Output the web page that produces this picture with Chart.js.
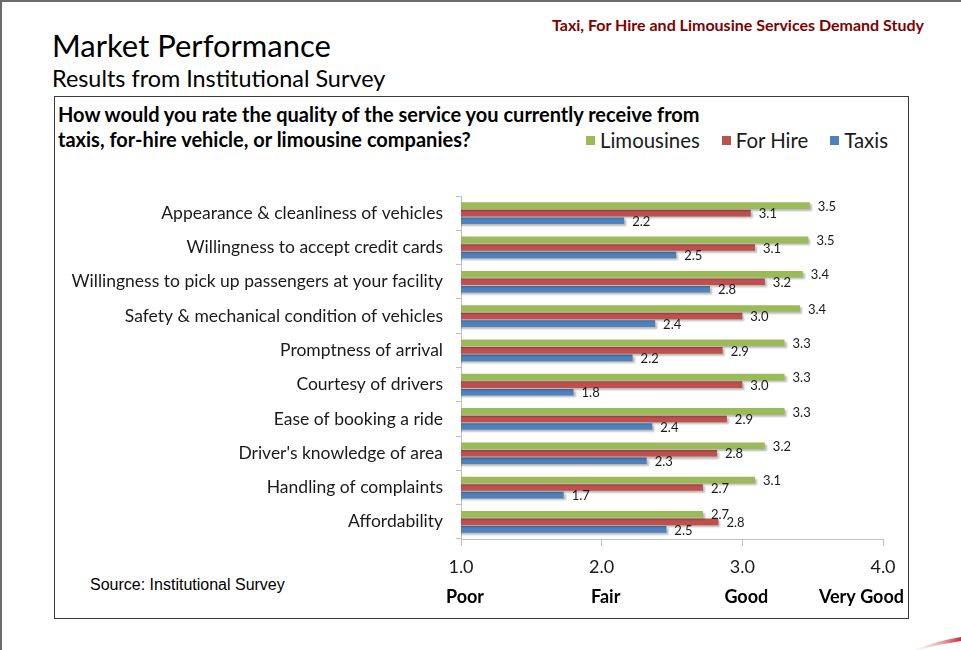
<!DOCTYPE html>
<html>
<head>
<meta charset="utf-8">
<script src="https://cdn.jsdelivr.net/npm/chart.js@4.4.0/dist/chart.umd.min.js"></script>
<style>
  html, body { margin: 0; padding: 0; background: #fff; }
  #page { position: relative; width: 961px; height: 650px; overflow: hidden; font-family: Lato, "Noto Sans", sans-serif; color: #000; }
  #page:before { content: ''; position: absolute; left: 0; top: 0; right: 0; height: 2px; background: #6b6b6b; }
  #page:after { content: ''; position: absolute; left: 0; top: 0; bottom: 0; width: 2px; background: #6b6b6b; }
  .txt { position: absolute; white-space: nowrap; }
  #study { right: 37px; top: 15px; font-size: 16px; font-weight: bold; color: #7f0000; }
  #title { left: 52px; top: 26px; font-size: 31px; }
  #subtitle { left: 52px; top: 64px; font-size: 23.4px; }
  #box { position: absolute; left: 54px; top: 96px; width: 853px; height: 521px; border: 1px solid #3a3a3a; }
  #question { left: 58px; top: 102px; font-size: 20px; font-weight: bold; line-height: 25px; }
  #legend { position: absolute; left: 586px; top: 128px; display: flex; font-size: 20.4px; color: #1a1a1a; }
  #legend .item { display: flex; align-items: center; margin-right: 22px; }
  #legend .sw { width: 9px; height: 9px; margin-right: 5px; }
  #source { left: 90px; top: 576px; font-family: "Liberation Sans Narrow", "Liberation Sans", Arial, sans-serif; font-size: 16px; color: #000; }
  canvas { position: absolute; left: 0; top: 0; }
  #swoosh { position: absolute; left: 900px; top: 620px; }
</style>
</head>
<body>
<div id="page">
  <div class="txt" id="study">Taxi, For Hire and Limousine Services Demand Study</div>
  <div class="txt" id="title">Market Performance</div>
  <div class="txt" id="subtitle">Results from Institutional Survey</div>
  <div id="box"></div>
  <div class="txt" id="question">How would you rate the quality of the service you currently receive from<br>taxis, for-hire vehicle, or limousine companies?</div>
  <div id="legend"></div>
  <div class="txt" id="source">Source: Institutional Survey</div>
  <canvas id="chart" width="961" height="650"></canvas>
  <svg id="swoosh" width="61" height="30">
    <defs>
      <linearGradient id="sg" x1="0" x2="1" y1="0" y2="0">
        <stop offset="0" stop-color="#f3d6d6" stop-opacity="0.2"/>
        <stop offset="1" stop-color="#c0303a"/>
      </linearGradient>
    </defs>
    <path d="M14 30 Q40 20 61 17 L61 21 Q40 24 18 30 Z" fill="url(#sg)"/>
  </svg>
</div>
<script>
// categories, top to bottom
const categories = [
  'Appearance & cleanliness of vehicles',
  'Willingness to accept credit cards',
  'Willingness to pick up passengers at your facility',
  'Safety & mechanical condition of vehicles',
  'Promptness of arrival',
  'Courtesy of drivers',
  'Ease of booking a ride',
  "Driver's knowledge of area",
  'Handling of complaints',
  'Affordability'
];

// ratings (labels show one decimal)
const limousines = [3.48, 3.47, 3.43, 3.41, 3.30, 3.30, 3.30, 3.16, 3.09, 2.72];
const forHire    = [3.06, 3.09, 3.16, 3.00, 2.86, 3.00, 2.89, 2.82, 2.72, 2.83];
const taxis      = [2.16, 2.53, 2.77, 2.38, 2.22, 1.80, 2.36, 2.32, 1.73, 2.46];

const seriesNames = ['Limousines', 'For Hire', 'Taxis'];
const seriesColors = ['#9bbb59', '#c0504d', '#4f81bd'];

const tickValues = [1, 2, 3, 4];
const ratingWords = ['Poor', 'Fair', 'Good', 'Very Good'];

const FONT = 'Lato, "Noto Sans", sans-serif';

// soft drop shadow under the bars, like the original
const shadowPlugin = {
  id: 'barShadow',
  beforeDatasetsDraw(chart) {
    const ctx = chart.ctx;
    ctx.save();
    ctx.shadowColor = 'rgba(0,0,0,0.28)';
    ctx.shadowOffsetX = 2;
    ctx.shadowOffsetY = 2;
    ctx.shadowBlur = 2;
  },
  afterDatasetsDraw(chart) {
    chart.ctx.restore();
  }
};

// value labels at the end of each bar
const valueLabels = {
  id: 'valueLabels',
  afterDatasetsDraw(chart) {
    const ctx = chart.ctx;
    ctx.save();
    ctx.font = '13px ' + FONT;
    ctx.fillStyle = '#1a1a1a';
    ctx.textAlign = 'left';
    ctx.textBaseline = 'middle';
    chart.data.datasets.forEach((ds, i) => {
      chart.getDatasetMeta(i).data.forEach((bar, j) => {
        ctx.fillText(ds.data[j].toFixed(1), bar.x + 8, bar.y + 1);
      });
    });
    ctx.restore();
  }
};

// second row under the x ticks: Poor / Fair / Good / Very Good
const ratingRow = {
  id: 'ratingRow',
  afterDraw(chart) {
    const ctx = chart.ctx;
    const x = chart.scales.x;
    ctx.save();
    ctx.font = 'bold 18px ' + FONT;
    ctx.fillStyle = '#000';
    ctx.textBaseline = 'middle';
    tickValues.forEach((v, i) => {
      const px = x.getPixelForValue(v);
      if (i === tickValues.length - 1) {
        ctx.textAlign = 'right';
        ctx.fillText(ratingWords[i], px + 21, 597);
      } else {
        ctx.textAlign = 'center';
        ctx.fillText(ratingWords[i], px + 4, 597);
      }
    });
    ctx.restore();
  }
};

const chart = new Chart(document.getElementById('chart'), {
  type: 'bar',
  data: {
    labels: categories,
    datasets: [
      { label: seriesNames[0], data: limousines, backgroundColor: seriesColors[0] },
      { label: seriesNames[1], data: forHire, backgroundColor: seriesColors[1] },
      { label: seriesNames[2], data: taxis, backgroundColor: seriesColors[2] }
    ]
  },
  options: {
    indexAxis: 'y',
    responsive: false,
    animation: false,
    categoryPercentage: 0.66,
    barPercentage: 0.87,
    layout: { padding: { left: 0, right: 78, top: 196, bottom: 0 } },
    plugins: {
      legend: { display: false },
      tooltip: { enabled: false }
    },
    scales: {
      x: {
        type: 'linear',
        min: 1,
        max: 4,
        afterBuildTicks(scale) {
          scale.ticks = tickValues.map(v => ({ value: v }));
        },
        afterFit(scale) { scale.height = 111; },
        border: { display: true, color: '#c0c0c0' },
        grid: { drawOnChartArea: false, drawTicks: true, tickLength: 7, color: '#c0c0c0' },
        ticks: {
          padding: 10,
          maxRotation: 0,
          color: '#1a1a1a',
          font: { family: FONT, size: 18 },
          callback: v => Number(v).toFixed(1)
        }
      },
      y: {
        type: 'category',
        offset: true,
        afterFit(scale) { scale.width = 461; },
        border: { display: true, color: '#c0c0c0' },
        grid: { offset: true, drawOnChartArea: false, drawTicks: true, tickLength: 5, color: '#c0c0c0' },
        ticks: {
          padding: 13,
          color: '#1a1a1a',
          font: { family: FONT, size: 17.5 }
        }
      }
    }
  },
  plugins: [shadowPlugin, valueLabels, ratingRow]
});

// legend built from the chart's datasets
const legend = document.getElementById('legend');
chart.data.datasets.forEach(ds => {
  const item = document.createElement('div');
  item.className = 'item';
  const sw = document.createElement('span');
  sw.className = 'sw';
  sw.style.background = ds.backgroundColor;
  const t = document.createElement('span');
  t.textContent = ds.label;
  item.appendChild(sw);
  item.appendChild(t);
  legend.appendChild(item);
});
</script>
</body>
</html>
